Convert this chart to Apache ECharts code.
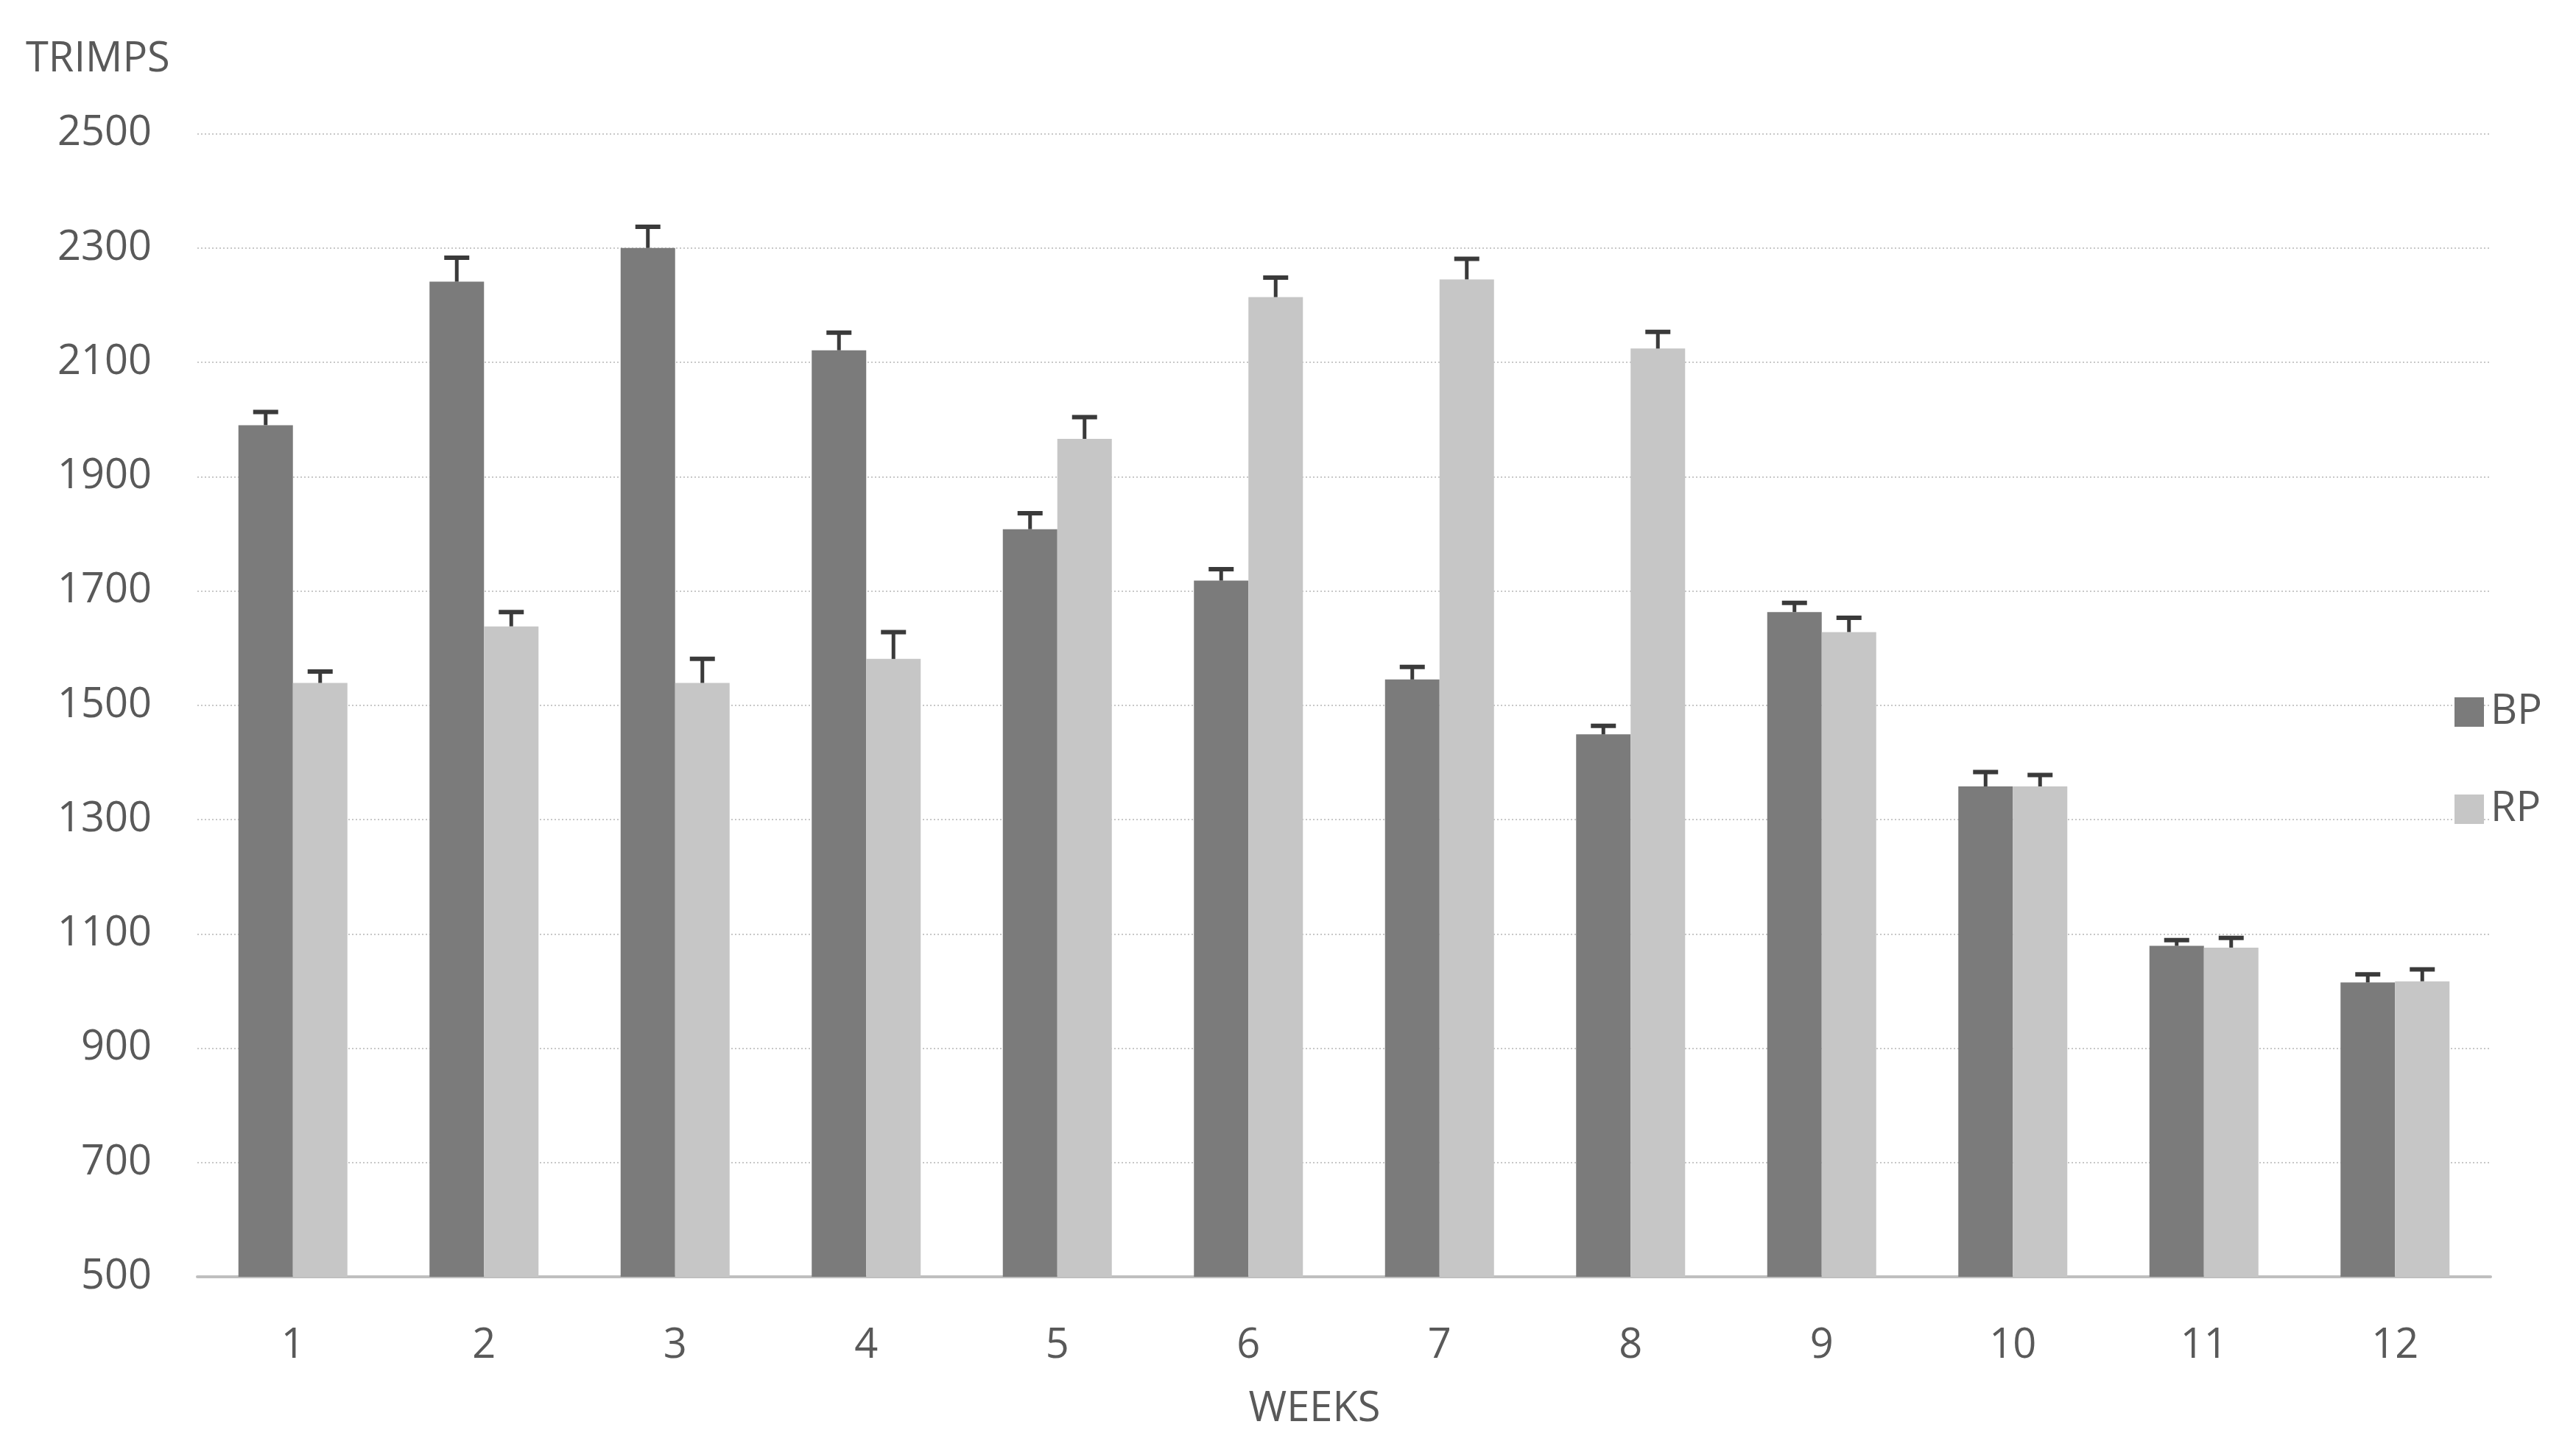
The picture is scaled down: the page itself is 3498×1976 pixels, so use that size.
<!DOCTYPE html>
<html>
<head>
<meta charset="utf-8">
<script src="https://cdn.jsdelivr.net/npm/echarts@6/dist/echarts.min.js"></script>
<style>html,body{margin:0;padding:0;background:#fff;}#c{width:3498px;height:1976px;}</style>
</head>
<body>
<div id="c"></div>
<script>
const weeks = ['1','2','3','4','5','6','7','8','9','10','11','12'];
const bpValues = [1990, 2241, 2300, 2121, 1808, 1718, 1545, 1449, 1663, 1358, 1079, 1015];
const bpErrors = [23, 42, 37, 31, 28, 20, 22, 15, 16, 25, 10, 14];
const rpValues = [1539, 1638, 1539, 1581, 1966, 2214, 2245, 2124, 1628, 1358, 1076, 1017];
const rpErrors = [20, 25, 42, 47, 38, 34, 36, 29, 25, 20, 17, 21];

const FONT = 'Open Sans';
const TXT = '#595959';
const BAR_W = 74;

function errSeries(name, vals, errs, side) {
  return {
    type: 'custom',
    name: name + ' err',
    z: 5,
    silent: true,
    data: vals.map((v, i) => [i, v, v + errs[i]]),
    renderItem: function (params, api) {
      const p0 = api.coord([api.value(0), api.value(1)]);
      const p1 = api.coord([api.value(0), api.value(2)]);
      const x = p0[0] + side * BAR_W / 2;
      const hw = 17;
      return {
        type: 'group',
        children: [
          { type: 'line', shape: { x1: x, y1: p0[1], x2: x, y2: p1[1] }, style: { stroke: '#3a3a3a', lineWidth: 5 } },
          { type: 'line', shape: { x1: x - hw, y1: p1[1], x2: x + hw, y2: p1[1] }, style: { stroke: '#3a3a3a', lineWidth: 6 } }
        ]
      };
    }
  };
}

const chart = echarts.init(document.getElementById('c'));
chart.setOption({
  backgroundColor: '#ffffff',
  animation: false,
  title: {
    text: 'TRIMPS', left: 30, top: 48,
    textStyle: { fontFamily: FONT, fontSize: 56, fontWeight: 'normal', color: TXT }
  },
  legend: {
    orient: 'vertical', left: 3328, top: 934,
    itemWidth: 40, itemHeight: 40, itemGap: 76, icon: 'rect',
    data: ['BP', 'RP'],
    textStyle: { fontFamily: FONT, fontSize: 56, color: TXT, padding: [0, 0, 0, 4] }
  },
  grid: { left: 268, right: 116, top: 181.5, bottom: 242 },
  xAxis: {
    type: 'category', data: weeks,
    name: 'WEEKS', nameLocation: 'middle', nameGap: 152,
    nameTextStyle: { fontFamily: FONT, fontSize: 56, color: TXT, padding: [0, 80, 0, 0] },
    axisTick: { show: false },
    axisLine: { lineStyle: { color: '#bfbfbf', width: 4 } },
    axisLabel: { fontFamily: FONT, fontSize: 56, color: TXT, margin: 66 }
  },
  yAxis: {
    type: 'value', min: 500, max: 2500, interval: 200,
    axisLine: { show: false }, axisTick: { show: false },
    axisLabel: { fontFamily: FONT, fontSize: 56, color: TXT, margin: 62, formatter: v => String(v) },
    splitLine: { lineStyle: { color: '#c8c8c8', type: [2, 3], width: 2 } }
  },
  series: [
    { type: 'bar', name: 'BP', data: bpValues, barWidth: BAR_W, barGap: '0%', itemStyle: { color: '#7b7b7b' } },
    { type: 'bar', name: 'RP', data: rpValues, barWidth: BAR_W, barGap: '0%', itemStyle: { color: '#c6c6c6' } },
    errSeries('BP', bpValues, bpErrors, -1),
    errSeries('RP', rpValues, rpErrors, 1)
  ]
});
</script>
</body>
</html>
